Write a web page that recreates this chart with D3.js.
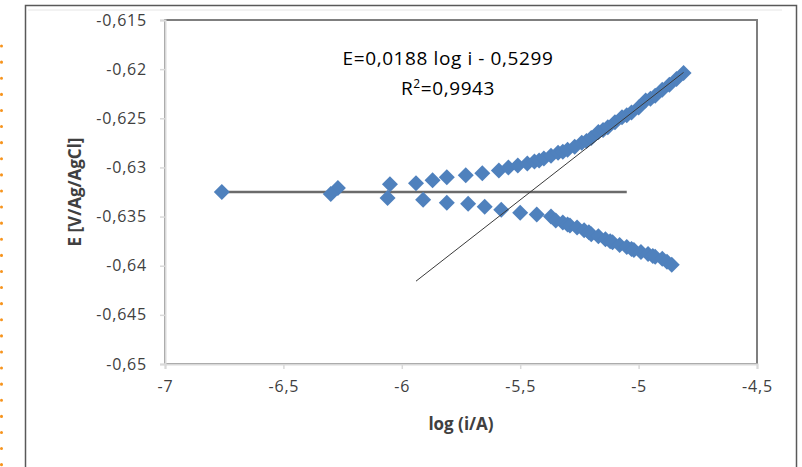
<!DOCTYPE html>
<html>
<head>
<meta charset="utf-8">
<script src="https://cdn.jsdelivr.net/npm/d3@7"></script>
<style>
  body { margin: 0; background: #ffffff; }
  svg { display: block; }
</style>
</head>
<body>
<svg id="chart" width="802" height="467"></svg>
<script>
// axis ticks
var xTicks = [-7, -6.5, -6, -5.5, -5, -4.5];
var yTicks = [-0.615, -0.62, -0.625, -0.63, -0.635, -0.64, -0.645, -0.65];

// anodic branch (upper)
var upperLogI = [-6.76, -6.27, -6.05, -5.94, -5.87, -5.81, -5.73, -5.66, -5.59, -5.55, -5.51,
  -5.47, -5.44, -5.42, -5.40, -5.37, -5.34, -5.32, -5.30, -5.27, -5.24, -5.22, -5.20, -5.17, -5.15, -5.13, -5.10,
  -5.07, -5.05, -5.03, -5.00, -4.97, -4.95, -4.93, -4.90, -4.87, -4.84, -4.81];
var upperE = [-0.6325, -0.6321, -0.6317, -0.6316, -0.6313, -0.6310, -0.6308, -0.6306, -0.6303, -0.6300, -0.6298,
  -0.6296, -0.6294, -0.6293, -0.6291, -0.6288, -0.6285, -0.6284, -0.6282, -0.6279, -0.6275, -0.6273, -0.6270, -0.6264, -0.6262, -0.6259, -0.6254,
  -0.6249, -0.6247, -0.6244, -0.6239, -0.6232, -0.6230, -0.6227, -0.6221, -0.6216, -0.6210, -0.6204];

// cathodic branch (lower)
var lowerLogI = [-6.30, -6.06, -5.91, -5.81, -5.72, -5.65, -5.58, -5.50, -5.43, -5.37, -5.35,
  -5.32, -5.30, -5.29, -5.26, -5.23, -5.21, -5.20, -5.17, -5.14, -5.12, -5.11, -5.08, -5.05, -5.03, -5.02, -4.99,
  -4.96, -4.94, -4.93, -4.90, -4.88, -4.86];
var lowerE = [-0.6327, -0.6331, -0.6333, -0.6336, -0.6337, -0.6340, -0.6343, -0.6346, -0.6348, -0.6350, -0.6354,
  -0.6356, -0.6358, -0.6359, -0.6361, -0.6364, -0.6366, -0.6368, -0.6370, -0.6373, -0.6375, -0.6376, -0.6379, -0.6381, -0.6383, -0.6384, -0.6386,
  -0.6388, -0.6390, -0.6391, -0.6393, -0.6396, -0.6399];

// Tafel fit and corrosion potential line
var fitSlope = 0.0188;
var fitIntercept = -0.5299;
var fitRange = [-5.94, -4.81];
var baseE = -0.6325;
var baseRange = [-6.76, -5.05];

var equationLines = ["E=0,0188 log i - 0,5299", "R2=0,9943"];

var Chart = (function () {

  var colors = {
    "marker": "#4f81bd",
    "text": "#404040",
    "axis": "#d9d9d9",
    "border": "#7f7f7f",
    "frame": "#595959",
    "orange": "#f7941d"
  };

  var margin = { left: 165, top: 20, right: 757, bottom: 364 };

  var locale = d3.formatLocale({ decimal: ",", thousands: ".", grouping: [3], currency: ["", ""], minus: "-" });
  var fmt = locale.format("~g");

  var diamond = "M0,-8L8,0L0,8L-8,0Z";

  return {
    Draw: function () {
      var svg = d3.select("#chart");

      var x = d3.scaleLinear().domain([-7, -4.5]).range([margin.left, margin.right]);
      var y = d3.scaleLinear().domain([-0.65, -0.615]).range([margin.bottom, margin.top]);

      // orange dotted edge on the far left
      svg.append("line")
        .attr("x1", 1.5).attr("x2", 1.5)
        .attr("y1", 46).attr("y2", 467)
        .attr("stroke", colors.orange)
        .attr("stroke-width", 3)
        .attr("stroke-linecap", "round")
        .attr("stroke-dasharray", "0.1 16");

      // outer chart frame
      svg.append("rect")
        .attr("x", 25.5).attr("y", 5.5)
        .attr("width", 771).attr("height", 470)
        .attr("fill", "none")
        .attr("stroke", colors.frame)
        .attr("stroke-width", 1.5);
      svg.append("line")
        .attr("x1", 28).attr("x2", 782)
        .attr("y1", 10).attr("y2", 10)
        .attr("stroke", "#e6e6e6");

      // plot area border
      svg.append("rect")
        .attr("x", margin.left).attr("y", margin.top)
        .attr("width", margin.right - margin.left)
        .attr("height", margin.bottom - margin.top)
        .attr("fill", "none")
        .attr("stroke", colors.border)
        .attr("stroke-width", 2);

      // y axis
      var yAxis = svg.append("g")
        .attr("transform", "translate(" + margin.left + ",0)")
        .call(d3.axisLeft(y).tickValues(yTicks).tickFormat(fmt).tickSize(5).tickPadding(13));
      yAxis.select(".domain").attr("stroke", colors.axis).attr("stroke-width", 2);
      yAxis.selectAll(".tick line").attr("stroke", colors.axis).attr("stroke-width", 1.5);
      yAxis.selectAll(".tick text")
        .attr("fill", colors.text)
        .style("font-family", "'Open Sans', sans-serif")
        .style("font-size", "16px")
        .style("letter-spacing", "0.8px");

      // x axis
      var xAxis = svg.append("g")
        .attr("transform", "translate(0," + margin.bottom + ")")
        .call(d3.axisBottom(x).tickValues(xTicks).tickFormat(fmt).tickSize(5).tickPadding(12));
      xAxis.select(".domain").attr("stroke", colors.axis).attr("stroke-width", 2);
      xAxis.selectAll(".tick line").attr("stroke", colors.axis).attr("stroke-width", 1.5);
      xAxis.selectAll(".tick text")
        .attr("fill", colors.text)
        .style("font-family", "'Open Sans', sans-serif")
        .style("font-size", "16px")
        .style("letter-spacing", "0.8px");

      // axis titles
      svg.append("text")
        .attr("x", 461).attr("y", 430)
        .attr("text-anchor", "middle")
        .attr("fill", colors.text)
        .style("font-family", "'Open Sans', sans-serif")
        .style("font-size", "17px")
        .style("font-weight", "bold")
        .text("log (i/A)");

      svg.append("text")
        .attr("transform", "translate(81,192) rotate(-90)")
        .attr("text-anchor", "middle")
        .attr("fill", colors.text)
        .style("font-family", "'Open Sans', sans-serif")
        .style("font-size", "17px")
        .style("font-weight", "bold")
        .text("E [V/Ag/AgCl]");

      // corrosion potential line
      svg.append("line")
        .attr("x1", x(baseRange[0])).attr("x2", x(baseRange[1]))
        .attr("y1", y(baseE)).attr("y2", y(baseE))
        .attr("stroke", "#6b6b6b")
        .attr("stroke-width", 2.5);

      // markers
      var pts = upperLogI.map(function (d, i) { return { x: d, y: upperE[i] }; })
        .concat(lowerLogI.map(function (d, i) { return { x: d, y: lowerE[i] }; }));

      svg.append("g").selectAll("path")
        .data(pts)
        .enter()
        .append("path")
        .attr("d", diamond)
        .attr("transform", function (d) { return "translate(" + x(d.x) + "," + y(d.y) + ")"; })
        .attr("fill", colors.marker);

      // Tafel fit line
      svg.append("line")
        .attr("x1", x(fitRange[0])).attr("x2", x(fitRange[1]))
        .attr("y1", y(fitSlope * fitRange[0] + fitIntercept))
        .attr("y2", y(fitSlope * fitRange[1] + fitIntercept))
        .attr("stroke", "#3a3a3a")
        .attr("stroke-width", 1);

      // equation
      var eq = svg.append("g")
        .attr("fill", "#000000")
        .style("font-family", "'Open Sans', sans-serif")
        .style("font-size", "19px");
      eq.append("text")
        .attr("x", 448).attr("y", 65)
        .attr("text-anchor", "middle")
        .style("letter-spacing", "0.6px")
        .text(equationLines[0]);
      var r2 = eq.append("text")
        .attr("x", 448).attr("y", 95)
        .attr("text-anchor", "middle")
        .style("letter-spacing", "0.6px");
      r2.append("tspan").text("R");
      r2.append("tspan").attr("dy", -7).style("font-size", "12px").text("2");
      r2.append("tspan").attr("dy", 7).text("=0,9943");
    }
  };
})();

Chart.Draw();
</script>
</body>
</html>
